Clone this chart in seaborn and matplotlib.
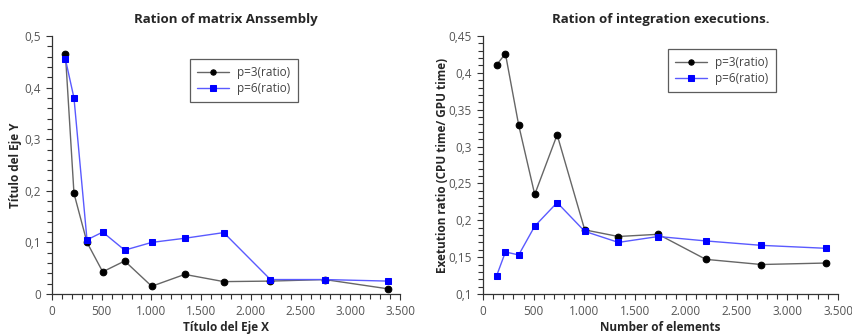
import matplotlib
matplotlib.use("Agg")
import matplotlib.pyplot as plt
import seaborn as sns
import pandas as pd
from matplotlib.ticker import FuncFormatter, MultipleLocator

# ---- data ----
elements = [135, 221, 352, 510, 731, 1003, 1335, 1727, 2197, 2744, 3380]
assembly_p3 = [0.465, 0.195, 0.100, 0.043, 0.064, 0.015, 0.038, 0.024, 0.025, 0.028, 0.010]
assembly_p6 = [0.455, 0.380, 0.105, 0.120, 0.085, 0.100, 0.108, 0.119, 0.028, 0.028, 0.025]
integ_p3 = [0.411, 0.426, 0.329, 0.235, 0.316, 0.187, 0.178, 0.181, 0.147, 0.140, 0.142]
integ_p6 = [0.125, 0.157, 0.153, 0.192, 0.224, 0.185, 0.170, 0.178, 0.172, 0.166, 0.162]
series_labels = ["p=3(ratio)", "p=6(ratio)"]
titles = ["Ration of matrix Anssembly", "Ration of integration executions."]
xlabels = ["Título del Eje X", "Number of elements"]
ylabels = ["Título del Eje Y", "Exetution ratio (CPU time/ GPU time)"]

sns.set_style("ticks")
plt.rcParams["font.family"] = ["Open Sans", "DejaVu Sans"]

fig = plt.figure(figsize=(8.53, 3.36), dpi=100)
ax1 = fig.add_axes([52/853, 1-294/336, 348/853, 258/336])
ax2 = fig.add_axes([483/853, 1-294/336, 355/853, 258/336])


def fmt(v, pos):
    if abs(v - round(v)) < 1e-9:
        s = f"{int(round(v)):,}".replace(",", ".")
        return s
    s = f"{v:.2f}".rstrip("0")
    return s.replace(".", ",")


styles = [
    dict(line="#666666", mk="black", marker="o", ms=4.8),
    dict(line="#5a5aff", mk="#0000ff", marker="s", ms=4.8),
]


def draw(ax, ys, title, xl, yl, ylim, ymaj, ymin, leg_bbox, ylpad):
    for y, lab, st in zip(ys, series_labels, styles):
        df = pd.DataFrame({"x": elements, "y": y})
        sns.lineplot(data=df, x="x", y="y", ax=ax, color=st["line"], lw=1.0,
                     marker=st["marker"], markersize=st["ms"],
                     markerfacecolor=st["mk"], markeredgecolor=st["mk"],
                     label=lab)
    ax.set_xlim(0, 3500)
    ax.set_ylim(*ylim)
    ax.xaxis.set_major_locator(MultipleLocator(500))
    ax.xaxis.set_minor_locator(MultipleLocator(100))
    ax.yaxis.set_major_locator(MultipleLocator(ymaj))
    ax.yaxis.set_minor_locator(MultipleLocator(ymin))
    ax.xaxis.set_major_formatter(FuncFormatter(fmt))
    ax.yaxis.set_major_formatter(FuncFormatter(fmt))
    ax.tick_params(which="major", length=4.5, width=0.8, color="#333333",
                   labelsize=8.5, labelcolor="#555555", direction="out")
    ax.tick_params(which="minor", length=3.5, width=0.8, color="#333333", direction="out")
    for s in ["top", "right"]:
        ax.spines[s].set_visible(False)
    for s in ["left", "bottom"]:
        ax.spines[s].set_color("#333333")
        ax.spines[s].set_linewidth(0.9)
    ax.set_title(title, fontsize=9.5, fontweight="bold", pad=9)
    ax.set_xlabel(xl, fontsize=8.5, fontweight="bold", labelpad=2)
    ax.set_ylabel(yl, fontsize=8.5, fontweight="bold", labelpad=ylpad)
    leg = ax.legend(loc="upper left", bbox_to_anchor=leg_bbox, fancybox=False,
                    frameon=True, edgecolor="#333333", fontsize=8.5,
                    handlelength=2.7, borderpad=0.6, labelspacing=0.25,
                    handletextpad=0.7, borderaxespad=0, markerscale=0.8)
    leg.get_frame().set_linewidth(0.9)
    for t in leg.get_texts():
        t.set_color("#444444")


draw(ax1, [assembly_p3, assembly_p6], titles[0], xlabels[0], ylabels[0],
     (0, 0.5), 0.1, 0.02, ((190-52)/348, (294-59)/258), 1.5)
draw(ax2, [integ_p3, integ_p6], titles[1], xlabels[1], ylabels[1],
     (0.1, 0.45), 0.05, 0.01, ((668-483)/355, (294-49)/258), 0)

fig.savefig("out.png", dpi=100)
